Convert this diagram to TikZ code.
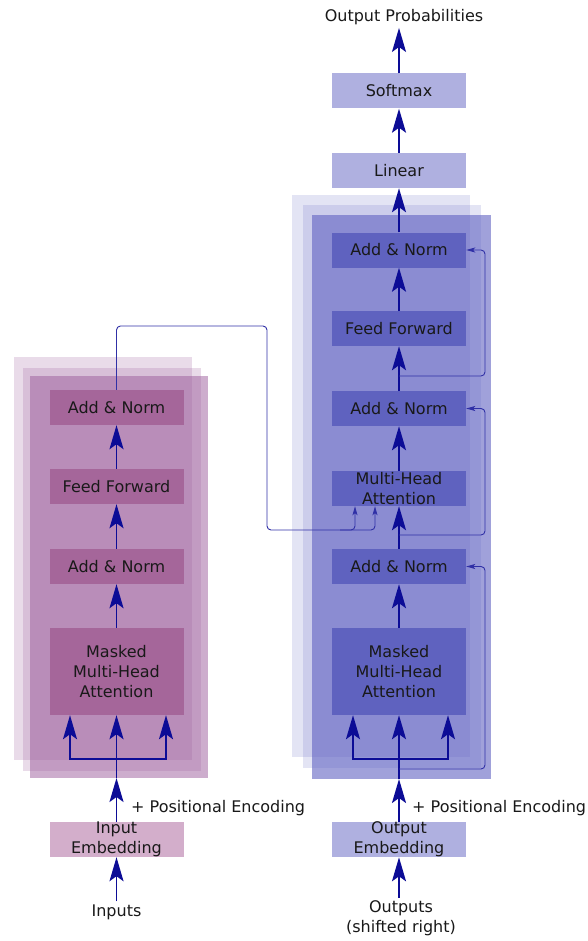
\documentclass[tikz,border=0pt]{standalone}
\usepackage{fontspec}
\setmainfont{DejaVu Sans}
\usetikzlibrary{arrows.meta}
\definecolor{navy}{RGB}{12,12,150}
\definecolor{encbg}{RGB}{155,91,155}
\definecolor{decbg}{RGB}{91,93,192}
\definecolor{encc}{RGB}{165,102,154}
\definecolor{embc}{RGB}{211,174,203}
\definecolor{decc}{RGB}{95,98,191}
\definecolor{outc}{RGB}{175,176,224}
\begin{document}
\begin{tikzpicture}[x=1pt,y=-1pt,
  font=\fontsize{16}{20}\selectfont,
  box/.style={minimum width=134pt, minimum height=35pt, inner sep=0pt, align=center, text=black!90},
  encb/.style={box, fill=encc},
  decb/.style={box, fill=decc},
  outb/.style={box, fill=outc},
  embb/.style={box, fill=embc},
  lbl/.style={inner sep=0pt, align=center, text=black!90},
  arr/.style={draw=navy, line width=1.9pt, -{Stealth[length=24pt,width=14pt,inset=5pt]}},
  ln/.style={draw=navy, line width=1.9pt},
  thinarr/.style={draw=navy!85, line width=0.9pt, rounded corners=4pt, -{Stealth[length=9pt,width=5pt,inset=2pt]}}]
\useasboundingbox (0,0) rectangle (587,941);

% stacked layer backgrounds
\fill[encbg, opacity=0.22] (14,357) rectangle (192,760);
\fill[encbg, opacity=0.22] (23,368) rectangle (201,771);
\fill[encbg, opacity=0.5] (30,376) rectangle (208,778);
\fill[decbg, opacity=0.17] (292,195) rectangle (470,757);
\fill[decbg, opacity=0.17] (303,205) rectangle (481,768);
\fill[decbg, opacity=0.58] (312,215) rectangle (491,779);

% left column
\node[encb] (encAN2) at (116.5,407.5) {Add \& Norm};
\node[encb] (encFF) at (116.5,486.5) {Feed Forward};
\node[encb] (encAN1) at (116.5,566.5) {Add \& Norm};
\node[encb, minimum height=87pt] (encMHA) at (116.5,671.5) {Masked\\Multi-Head\\Attention};
\node[embb] (inEmb) at (116.5,839.5) {Input\\Embedding};
\node[lbl] (inputs) at (116.5,912) {Inputs};
\node[lbl, anchor=west] (peL) at (131,808) {+ Positional Encoding};

% right column
\node[outb] (softmax) at (399,91) {Softmax};
\node[outb] (linear) at (399,170.5) {Linear};
\node[lbl] (outprob) at (404,17) {Output Probabilities};
\node[decb] (decAN3) at (399,250) {Add \& Norm};
\node[decb] (decFF) at (399,328.5) {Feed Forward};
\node[decb] (decAN2) at (399,408.5) {Add \& Norm};
\node[decb] (decMHA) at (399,488.5) {Multi-Head\\Attention};
\node[decb] (decAN1) at (399,566.5) {Add \& Norm};
\node[decb, minimum height=87pt] (decMMHA) at (399,671.5) {Masked\\Multi-Head\\Attention};
\node[outb] (outEmb) at (399,839.5) {Output\\Embedding};
\node[lbl] (outputs) at (401,918.5) {Outputs\\(shifted right)};
\node[lbl, anchor=west] (peR) at (412,808) {+ Positional Encoding};

% coordinates
\coordinate (bLm) at (116.5,759);
\coordinate (bL1) at (70,759);
\coordinate (bL2) at (166,759);
\coordinate (eL) at (116.5,778);
\coordinate (bRm) at (399,759);
\coordinate (bR1) at (353,759);
\coordinate (bR2) at (448,759);
\coordinate (eR) at (399,779);

% left arrows
\draw[arr, shorten <=3pt] (inputs.north) -- (inEmb.south);
\draw[arr] (inEmb.north) -- (eL);
\draw[ln] (eL) -- (bLm);
\draw[arr] (bLm) -- (encMHA.south);
\draw[arr, line join=miter] (bLm) -- (bL1) -- (bL1 |- encMHA.south);
\draw[arr, line join=miter] (bLm) -- (bL2) -- (bL2 |- encMHA.south);
\draw[arr] (encMHA.north) -- (encAN1.south);
\draw[arr] (encAN1.north) -- (encFF.south);
\draw[arr] (encFF.north) -- (encAN2.south);

% right arrows
\draw[arr, shorten <=3pt] (outEmb.south |- outputs.north) -- (outEmb.south);
\draw[arr] (outEmb.north) -- (eR);
\draw[ln] (eR) -- (bRm);
\draw[arr] (bRm) -- (decMMHA.south);
\draw[arr, line join=miter] (bRm) -- (bR1) -- (bR1 |- decMMHA.south);
\draw[arr, line join=miter] (bRm) -- (bR2) -- (bR2 |- decMMHA.south);
\draw[arr] (decMMHA.north) -- (decAN1.south);
\draw[arr] (decAN1.north) -- (decMHA.south);
\draw[arr] (decMHA.north) -- (decAN2.south);
\draw[arr] (decAN2.north) -- (decFF.south);
\draw[arr] (decFF.north) -- (decAN3.south);
\draw[arr] (decAN3.north) -- (linear.south);
\draw[arr] (linear.north) -- (softmax.south);
\draw[arr, shorten >=3pt] (softmax.north) -- (softmax.north |- outprob.south);

% residual connections
\coordinate (r1a) at (399,769);
\coordinate (r1b) at (485,769);
\coordinate (r1c) at (485,566.5);
\draw[thinarr] (r1a) -- (r1b) -- (r1c) -- (decAN1.east);
\coordinate (r2a) at (399,535);
\coordinate (r2b) at (485,535);
\coordinate (r2c) at (485,408.5);
\draw[thinarr] (r2a) -- (r2b) -- (r2c) -- (decAN2.east);
\coordinate (r3a) at (399,376);
\coordinate (r3b) at (485,376);
\coordinate (r3c) at (485,250);
\draw[thinarr] (r3a) -- (r3b) -- (r3c) -- (decAN3.east);

% encoder to decoder
\coordinate (x1) at (116.5,326);
\coordinate (x2) at (267,326);
\coordinate (x3) at (267,530);
\coordinate (x4) at (355,530);
\coordinate (x5) at (375,530);
\coordinate (x6) at (340,530);
\draw[thinarr] (encAN2.north) -- (x1) -- (x2) -- (x3) -- (x4) -- (x4 |- decMHA.south);
\draw[thinarr] (x6) -- (x5) -- (x5 |- decMHA.south);
\end{tikzpicture}
\end{document}
